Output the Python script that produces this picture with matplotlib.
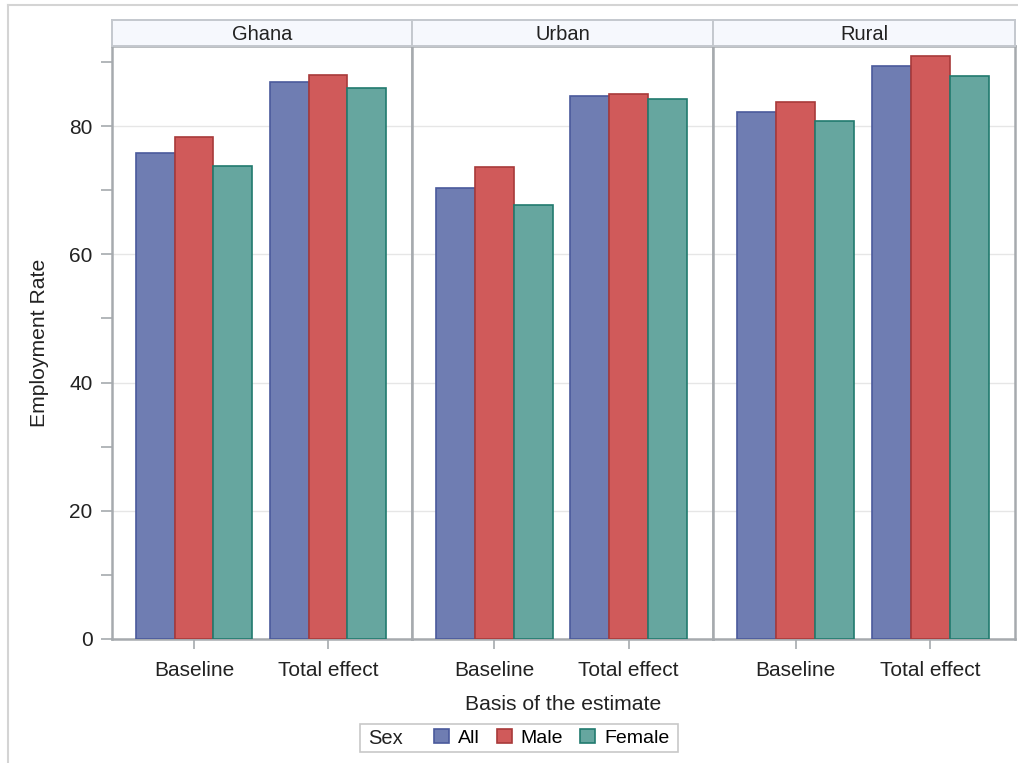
import numpy as np
import matplotlib.pyplot as plt
from matplotlib.patches import Rectangle, Patch
from matplotlib.lines import Line2D

plt.rcParams['font.family'] = ['Liberation Sans', 'DejaVu Sans']

# data
panels = ["Ghana", "Urban", "Rural"]
bases = ["Baseline", "Total effect"]
sexes = ["All", "Male", "Female"]
rate_all = {"Ghana": [75.8, 86.9], "Urban": [70.3, 84.7], "Rural": [82.2, 89.4]}
rate_male = {"Ghana": [78.3, 88.0], "Urban": [73.6, 85.0], "Rural": [83.7, 90.9]}
rate_female = {"Ghana": [73.8, 85.9], "Urban": [67.7, 84.2], "Rural": [80.8, 87.8]}
y_ticks = [0, 20, 40, 60, 80]

fill_colors = ["#6F7DB2", "#D05A5A", "#66A69F"]
edge_colors = ["#4A5A9C", "#A83A3A", "#217A6E"]
frame_col = "#A6AAAE"
txt_col = "#222222"
W, H = 1018, 763

fig = plt.figure(figsize=(W / 100, H / 100), dpi=100)

# outer light border of the page
fig.add_artist(Line2D([8 / W, 8 / W], [0, 1 - 5 / H], color="#D4D4D4", lw=1.5))
fig.add_artist(Line2D([8 / W, 1], [1 - 5 / H, 1 - 5 / H], color="#D4D4D4", lw=1.5))

edges = [112, 412, 713, 1015]
top, bottom = 46, 639
x = np.arange(len(bases))
width = 0.29

for i, name in enumerate(panels):
    left = edges[i] / W
    pw = (edges[i + 1] - edges[i]) / W
    ax = fig.add_axes([left, 1 - bottom / H, pw, (bottom - top) / H])

    for k, series in enumerate([rate_all, rate_male, rate_female]):
        ax.bar(x + (k - 1) * width, series[name], width,
               color=fill_colors[k], edgecolor=edge_colors[k], linewidth=1.2, zorder=3)

    ax.set_xlim(-0.612, 1.627)
    ax.set_ylim(0, 92.5)
    ax.set_yticks(y_ticks)
    ax.set_yticks(np.arange(10, 91, 20), minor=True)
    ax.grid(axis="y", color="#E6E6E6", lw=1, zorder=0)
    ax.set_xticks(x)
    ax.set_xticklabels(bases, fontsize=15, color=txt_col)
    ax.tick_params(axis="x", length=7, width=1.2, color=frame_col, pad=9)
    if i == 0:
        ax.tick_params(axis="y", which="both", length=8, width=1.2, color=frame_col,
                       labelsize=15, labelcolor=txt_col, pad=6)
        ax.set_ylabel("Employment Rate", fontsize=15.2, color=txt_col)
        ax.yaxis.set_label_coords((49 - 112) / 300, 0.5)
    else:
        ax.tick_params(axis="y", which="both", left=False, labelleft=False)
    for sp in ax.spines.values():
        sp.set_color(frame_col)
        sp.set_linewidth(1.8)

    # panel header strip
    hx = fig.add_axes([left, 1 - top / H, pw, 26 / H])
    hx.set_facecolor("#F6F8FD")
    hx.set_xticks([])
    hx.set_yticks([])
    for sp in hx.spines.values():
        sp.set_color("#C4C8CE")
        sp.set_linewidth(1.4)
    hx.text(0.5, 0.45, name, ha="center", va="center", fontsize=14.5, color=txt_col)

fig.text(563 / W, 1 - 704 / H, "Basis of the estimate", ha="center", va="center",
         fontsize=15.2, color=txt_col)

# legend box
fig.add_artist(Rectangle((360 / W, 1 - 752 / H), 318 / W, 28 / H, transform=fig.transFigure,
                         facecolor="white", edgecolor="#C8C8C8", lw=1.2))
fig.text(368 / W, 1 - 739 / H, "Sex", ha="left", va="center", fontsize=14.5, color=txt_col)
handles = [Patch(facecolor=fill_colors[k], edgecolor=edge_colors[k], linewidth=1.2) for k in range(3)]
fig.legend(handles, sexes, loc="center left", bbox_to_anchor=(434 / W, 1 - 738 / H),
           ncol=3, frameon=False, fontsize=14, handlelength=0.77, handleheight=0.77,
           handletextpad=0.46, columnspacing=0.88, borderpad=0, borderaxespad=0)

fig.savefig("out.png", dpi=100)
